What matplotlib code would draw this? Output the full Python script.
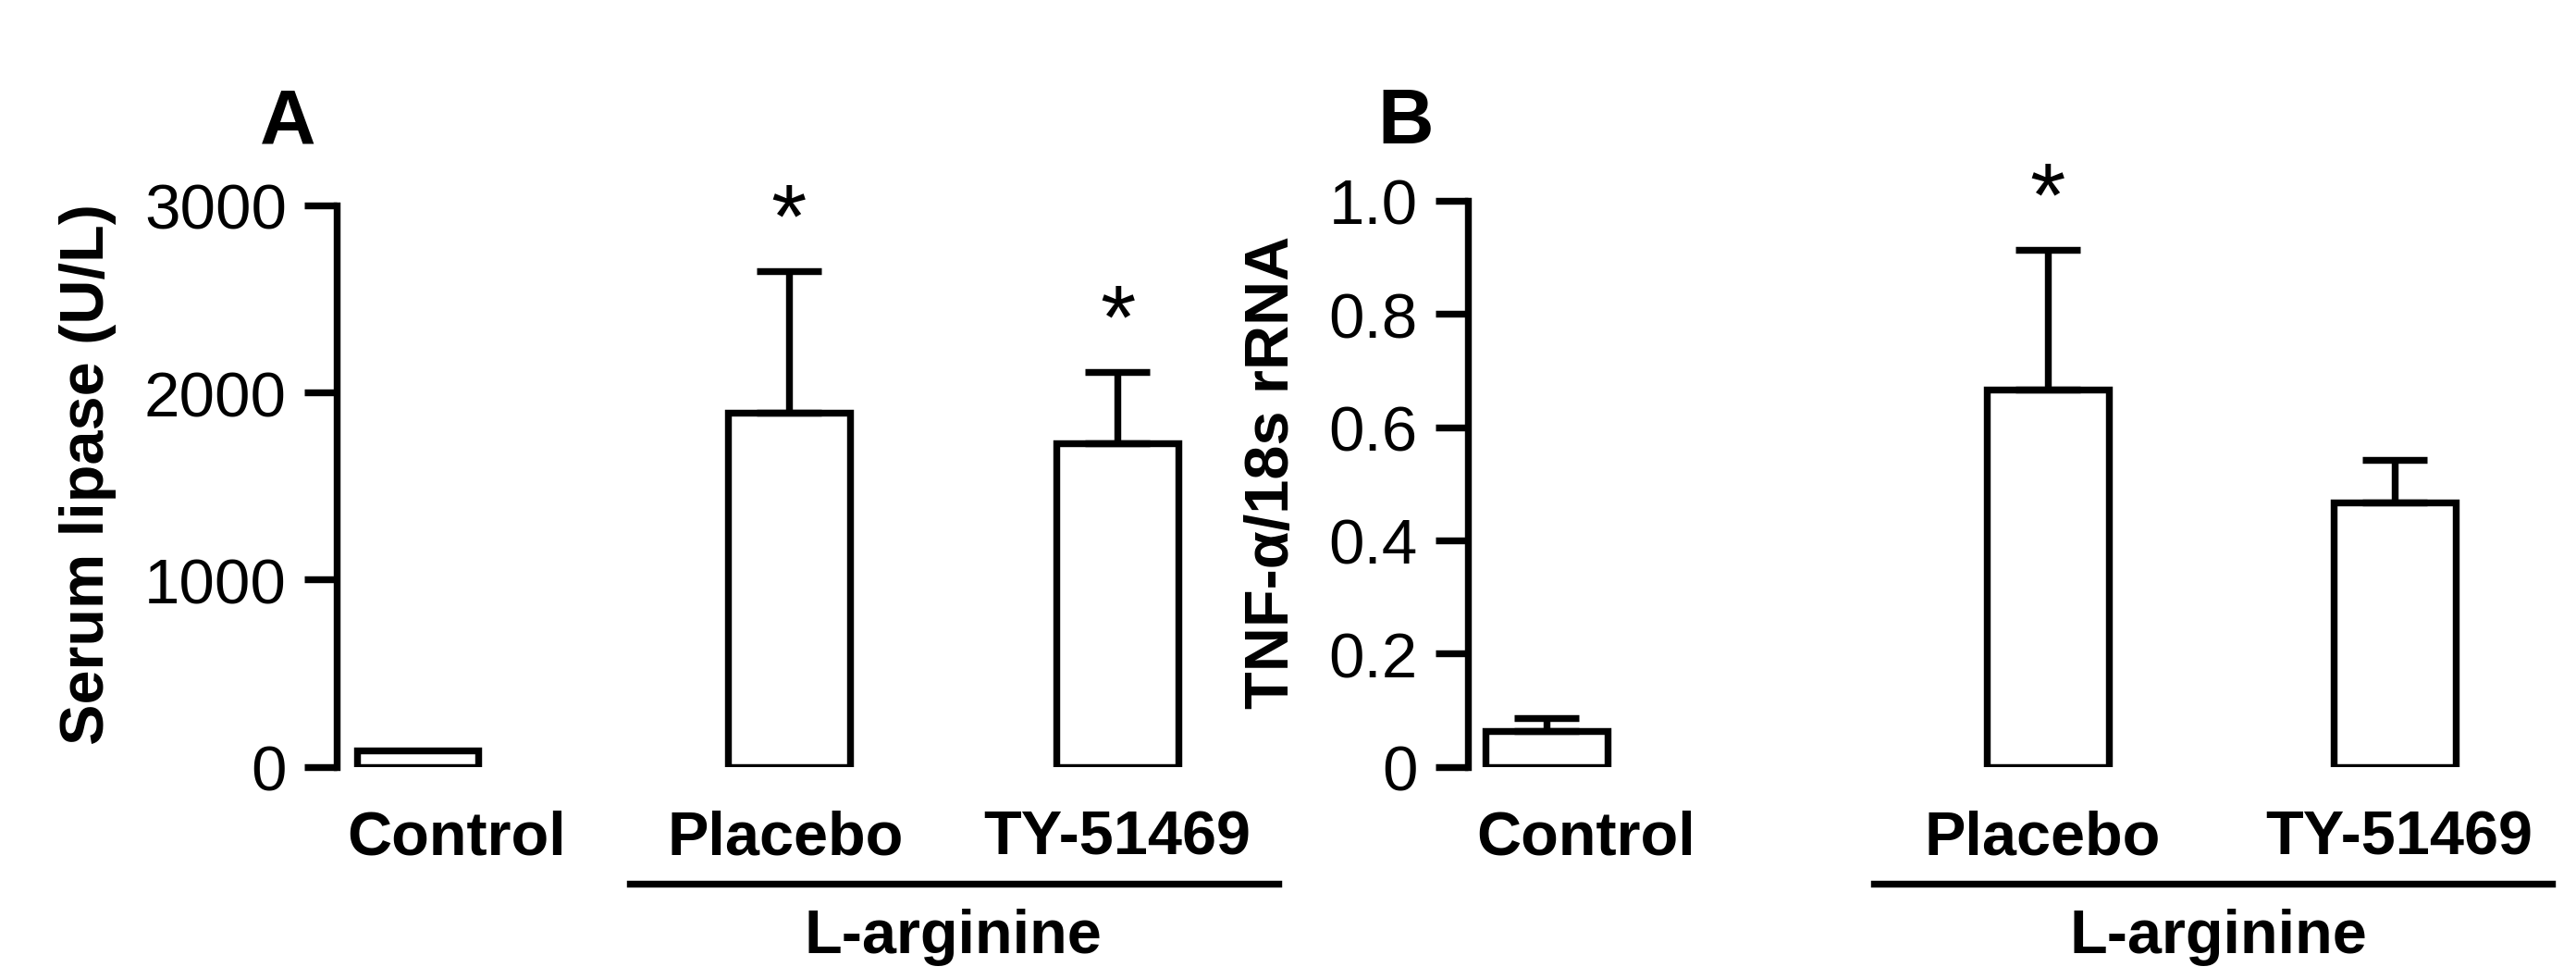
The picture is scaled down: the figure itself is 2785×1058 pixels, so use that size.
import matplotlib
matplotlib.use("Agg")
import matplotlib.pyplot as plt

groups = ["Control", "Placebo", "TY-51469"]
lipase_mean = [90, 1890, 1730]
lipase_err = [0, 760, 380]
tnf_mean = [0.064, 0.667, 0.467]
tnf_err = [0.023, 0.246, 0.075]
stars_a = [False, True, True]
stars_b = [False, True, False]

plt.rcParams['font.family'] = ['Liberation Sans', 'DejaVu Sans']
W, H = 1568, 596
fig = plt.figure(figsize=(W / 100, H / 100), dpi=100)


def px_axes(x0, x1, y0, y1):
    return fig.add_axes([x0 / W, 1 - y1 / H, (x1 - x0) / W, (y1 - y0) / H])


def ftext(x, y, s, **kw):
    fig.text(x / W, 1 - y / H, s, **kw)


def panel(ax, pos, means, errs, stars, ymax, ticks, ticklabels, ylabel, xlim):
    ax.bar(pos, means, width=0.74, color='white', edgecolor='black', linewidth=3)
    for p, m, e, s in zip(pos, means, errs, stars):
        if e > 0:
            ax.errorbar(p, m, yerr=[[0], [e]], color='black', capsize=14,
                        capthick=3, elinewidth=3)
        if s:
            ax.text(p, m + e + ymax * 0.01, "*", ha='center', va='bottom', fontsize=40)
    ax.set_xlim(*xlim)
    ax.set_ylim(0, ymax)
    ax.set_yticks(ticks)
    ax.set_yticklabels(ticklabels, fontsize=28)
    ax.set_xticks([])
    for sp in ['top', 'right', 'bottom']:
        ax.spines[sp].set_visible(False)
    ax.spines['left'].set_linewidth(3)
    ax.spines['left'].set_bounds(0, ticks[-1])
    ax.tick_params(axis='y', length=14, width=3, pad=8)
    ax.set_ylabel(ylabel, fontsize=27, fontweight='bold', labelpad=12)


ax1 = px_axes(205, 720, 110, 467)
panel(ax1, [0, 2.26, 4.26], lipase_mean, lipase_err, stars_a, 3000 * 1.045,
      [0, 1000, 2000, 3000], ["0", "1000", "2000", "3000"],
      "Serum lipase (U/L)", (-0.49, 4.66))

ax2 = px_axes(893, 1500, 107, 467)
panel(ax2, [0, 3.05, 5.16], tnf_mean, tnf_err, stars_b, 1.0 * 1.045,
      [0, 0.2, 0.4, 0.6, 0.8, 1.0], ["0", "0.2", "0.4", "0.6", "0.8", "1.0"],
      "TNF-α/18s rRNA", (-0.48, 5.59))

# group labels
bold = dict(fontsize=27, fontweight='bold', ha='center', va='center')
ftext(278, 510, "Control", **bold)
ftext(478, 510, "Placebo", **bold)
ftext(680, 510, "TY-51469", **bold)
ftext(580, 570, "L-arginine", **bold)
fig.add_artist(plt.Line2D([383 / W, 778 / W], [1 - 538 / H] * 2, color='black', lw=3))

ftext(965, 510, "Control", **bold)
ftext(1243, 510, "Placebo", **bold)
ftext(1460, 510, "TY-51469", **bold)
ftext(1350, 570, "L-arginine", **bold)
fig.add_artist(plt.Line2D([1140 / W, 1553 / W], [1 - 538 / H] * 2, color='black', lw=3))

ftext(175, 75, "A", fontsize=34, fontweight='bold', ha='center', va='center')
ftext(855, 75, "B", fontsize=34, fontweight='bold', ha='center', va='center')

fig.savefig("out.png", dpi=100 * 2786 / 1568)
